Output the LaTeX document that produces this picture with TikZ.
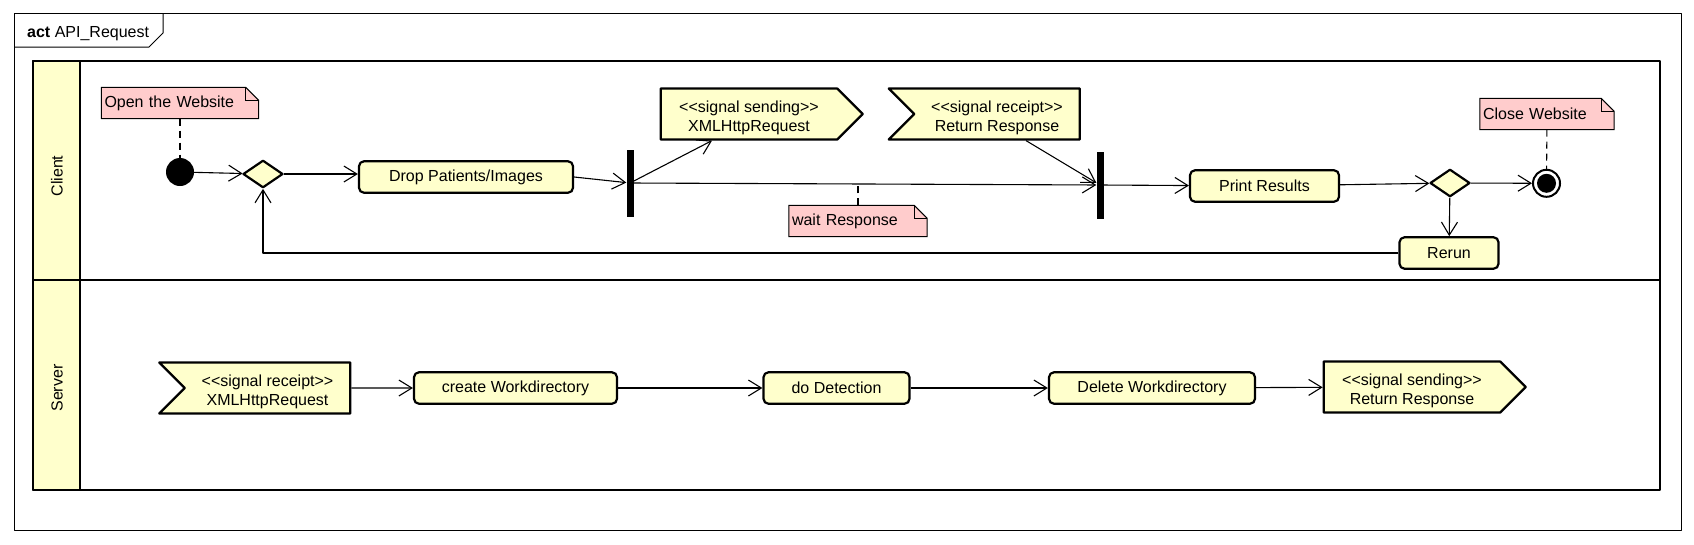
\documentclass[tikz,border=0pt]{standalone}
\usepackage{fontspec}
\setmainfont{Liberation Sans}
\usetikzlibrary{arrows.meta,shapes.geometric,shapes.symbols,backgrounds,positioning}
\definecolor{actyellow}{RGB}{255,255,204}
\definecolor{notepink}{RGB}{255,204,204}
\newcommand{\sigtext}[2]{\rule{0pt}{19pt}<\kern0pt<#1>\kern0pt>\\#2}
\begin{document}
\begin{tikzpicture}[x=1pt, y=-1pt, font=\fontsize{16}{19.5}\selectfont, line join=round, >={Straight Barb[length=13pt,width=16pt]},
	action/.style={draw, line width=2.2pt, rounded corners=5pt, fill=actyellow, minimum height=31.5pt, inner sep=0pt},
	decision/.style={diamond, draw, line width=2.2pt, fill=actyellow, minimum width=40pt, minimum height=27.5pt, inner sep=0pt},
	forkbar/.style={fill=black, minimum width=7pt, minimum height=67pt, inner sep=0pt},
	sendsig/.style={signal, signal to=east, signal from=nowhere, draw, line width=2.2pt, fill=actyellow, align=center, minimum height=51pt, inner sep=0pt},
	recvsig/.style={signal, signal from=west, signal to=nowhere, draw, line width=2.2pt, fill=actyellow, align=center, minimum height=51pt, inner sep=0pt},
	memo/.style={inner xsep=3pt, inner ysep=0pt, minimum height=31pt, align=left},
	flow/.style={->, line width=1.1pt},
	link/.style={line width=1.1pt, dash pattern=on 7pt off 5pt}]
	\useasboundingbox (0,0) rectangle (1694,544);
	% frame and lanes
	\draw[line width=1pt] (14,13) rectangle (1681,530);
	\draw[line width=1pt] (14,47) -- (149,47) -- (163,33) -- (163,13);
	\node[anchor=base west, inner sep=0pt] (title) at (27,37) {\textbf{act} API\_Request};
	\filldraw[fill=actyellow, line width=2.7pt] (33,61) rectangle (80,490);
	\draw[line width=2.7pt] (33,61) rectangle (1660,490) (33,280) -- (1660,280);
	\node[rotate=90] (client) at (57,176) {Client};
	\node[rotate=90] (server) at (57,388) {Server};
	% client lane
	\node[circle, fill=black, minimum size=28pt, inner sep=0pt] (init) at (180,172) {};
	\node[decision] (dec1) at (263,174) {};
	\node[action, minimum width=214pt] (drop) at (466,177) {Drop Patients/Images};
	\node[forkbar] (fork1) at (630,183) {};
	\node[sendsig, minimum width=202pt] (sendX) at (749,114) {\sigtext{signal sending}{XMLHttpRequest}};
	\node[recvsig, minimum width=191pt] (recvR) at (997,114) {\sigtext{signal receipt}{Return Response}};
	\node[forkbar] (join) at (1100,185) {};
	\node[action, minimum width=149pt] (print) at (1264.5,186) {Print Results};
	\node[decision] (dec2) at (1450,183) {};
	\node[circle, draw, line width=2pt, fill=white, minimum size=27pt, inner sep=0pt] (final) at (1546.5,183.3) {};
	\fill (final.center) circle (9.5pt);
	\node[action, minimum width=99pt] (rerun) at (1449,253) {Rerun};
	\node[memo, text width=151pt] (open) at (180,103) {Open the Website};
	\node[memo, text width=132pt] (wait) at (858,221) {wait Response};
	\node[memo, text width=128pt] (close) at (1547,114) {Close Website};
	% server lane
	\node[recvsig, minimum width=191pt] (recvX) at (267.5,388) {\sigtext{signal receipt}{XMLHttpRequest}};
	\node[action, minimum width=203pt] (create) at (515.5,388) {create Workdirectory};
	\node[action, minimum width=146pt] (detect) at (836.5,388) {do Detection};
	\node[action, minimum width=206pt] (delete) at (1152,388) {Delete Workdirectory};
	\node[sendsig, minimum width=202pt] (sendR) at (1412,387) {\sigtext{signal sending}{Return Response}};
	% notes
	\begin{scope}[on background layer]
	\foreach \n in {open,wait,close}{
		\filldraw[fill=notepink, line width=1pt] (\n.north west) -- ([xshift=-13pt]\n.north east) -- ([yshift=-13pt]\n.north east) -- (\n.south east) -- (\n.south west) -- cycle;
		\draw[line width=1pt] ([xshift=-13pt]\n.north east) |- ([yshift=-13pt]\n.north east);}
	\end{scope}
	% flows
	\draw[flow] (init) -- (dec1);
	\draw[flow] (dec1.east) -- (dec1.east -| drop.west);
	\draw[flow] (drop.east) -- (fork1);
	\draw[flow] (fork1) -- ([xshift=-37pt]sendX.south);
	\draw[flow] (fork1) -- (join);
	\draw[flow] ([xshift=29pt]recvR.south) -- (join);
	\draw[flow] (join) -- (print);
	\draw[flow] (print) -- (dec2);
	\draw[flow] (dec2) -- (final);
	\draw[flow] (dec2) -- (rerun);
	\draw[flow] (rerun.west) -| (dec1.south);
	\draw[link] (open) -- (init);
	\draw[link] (wait.north) -- (wait.north |- fork1);
	\draw[link] (close) -- (final);
	\foreach \a/\b in {recvX/create, create/detect, detect/delete, delete/sendR}
		\draw[flow] (\a) -- (\b);
\end{tikzpicture}
\end{document}
